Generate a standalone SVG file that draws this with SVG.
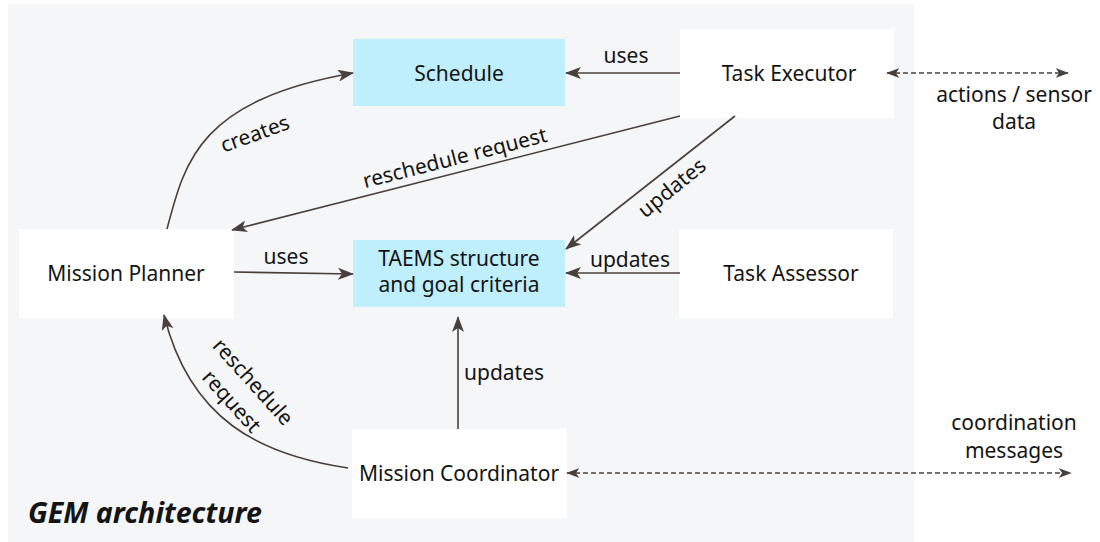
<svg xmlns="http://www.w3.org/2000/svg" width="1100" height="542" viewBox="0 0 1100 542">
<style>
text{font-family:"Noto Sans","Open Sans","DejaVu Sans",sans-serif;font-size:21px;fill:#141414;text-anchor:middle}
.box{fill:#ffffff}
.data{fill:#bfeefd}
.c{fill:none;stroke:#4a403b;stroke-width:1.6}
.d{stroke-dasharray:5 3}
.title{font-size:28.6px;font-weight:bold;font-style:italic;text-anchor:start}
</style>
<defs>
<marker id="ah" viewBox="0 0 16 12" refX="15" refY="6" markerWidth="16" markerHeight="12" markerUnits="userSpaceOnUse" orient="auto-start-reverse">
<path d="M0,0 L16,6 L0,12 L4,6 Z" fill="#4a403b"/>
</marker>
<marker id="ahs" viewBox="0 0 16 12" refX="15" refY="6" markerWidth="13" markerHeight="10" markerUnits="userSpaceOnUse" orient="auto-start-reverse">
<path d="M0,0 L16,6 L0,12 L4,6 Z" fill="#4a403b"/>
</marker>
</defs>
<rect x="8" y="4" width="906" height="538" fill="#f5f6f8"/>
<g id="schedule"><rect class="data" x="353" y="39" width="212" height="67"/><text x="459" y="81">Schedule</text></g>
<g id="task-executor"><rect class="box" x="680" y="29" width="214" height="89"/><text x="789" y="81">Task Executor</text></g>
<g id="mission-planner"><rect class="box" x="19" y="229" width="215" height="89"/><text x="126" y="281">Mission Planner</text></g>
<g id="taems"><rect class="data" x="353" y="240" width="212" height="67"/><text x="459" y="265.5">TAEMS structure</text><text x="459" y="291.5">and goal criteria</text></g>
<g id="task-assessor"><rect class="box" x="679" y="229" width="214" height="89"/><text x="791" y="281">Task Assessor</text></g>
<g id="mission-coordinator"><rect class="box" x="352" y="429" width="215" height="89"/><text x="459" y="481">Mission Coordinator</text></g>
<g id="connectors">
<path class="c" d="M167,229 C185,160 200,100 353,73" marker-end="url(#ah)"/>
<path class="c" d="M680,73 L566,73" marker-end="url(#ah)"/>
<path class="c" d="M680,116 L232,230" marker-end="url(#ah)"/>
<path class="c" d="M735,116 L566,249" marker-end="url(#ah)"/>
<path class="c" d="M680,273 L566,273" marker-end="url(#ah)"/>
<path class="c" d="M234,272 L353,274" marker-end="url(#ah)"/>
<path class="c" d="M458,429 L458,317" marker-end="url(#ah)"/>
<path class="c" d="M348,468 C260,455 190,420 164,315" marker-end="url(#ah)"/>
<path class="c d" d="M887,73 L1068,73" marker-start="url(#ahs)" marker-end="url(#ahs)"/>
<path class="c d" d="M567,473 L1071,473" marker-start="url(#ahs)" marker-end="url(#ahs)"/>
</g>
<g id="labels">
<text transform="translate(255,134) rotate(-20)" y="7">creates</text>
<text x="626" y="63">uses</text>
<text transform="translate(455,158) rotate(-14.3)" y="7">reschedule request</text>
<text transform="translate(672,188) rotate(-39)" y="7">updates</text>
<text x="630" y="267">updates</text>
<text x="286" y="264">uses</text>
<text x="464" y="380" style="text-anchor:start">updates</text>
<text transform="translate(253,382) rotate(48)"><tspan x="0" y="7">reschedule</tspan><tspan x="0" y="36">request</tspan></text>
<text x="1014" y="102">actions / sensor</text>
<text x="1014" y="129">data</text>
<text x="1014" y="430">coordination</text>
<text x="1014" y="458">messages</text>
<text class="title" x="28" y="523">GEM architecture</text>
</g>
</svg>
